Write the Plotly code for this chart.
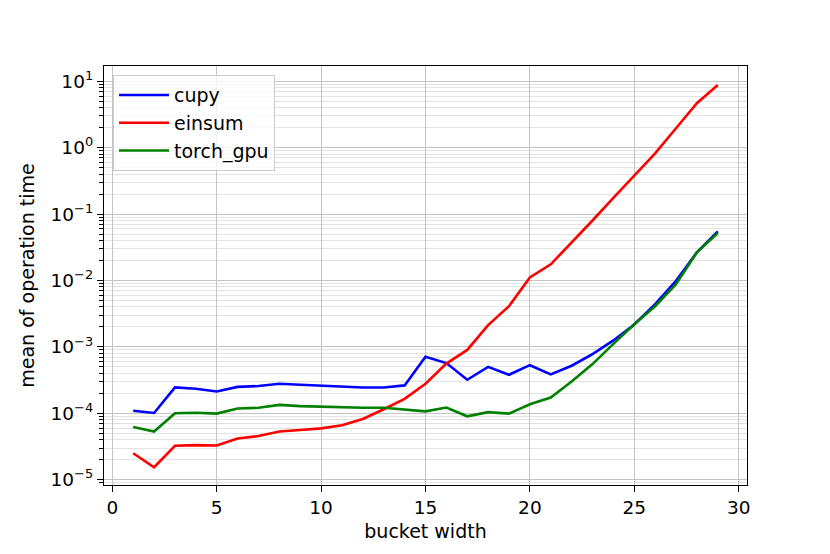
import plotly.graph_objects as go

bucket_width = list(range(1, 30))

cupy = [1.09e-4, 1.01e-4, 2.45e-4, 2.34e-4, 2.13e-4, 2.5e-4, 2.57e-4, 2.79e-4, 2.69e-4, 2.6e-4,
        2.48e-4, 2.45e-4, 2.45e-4, 2.63e-4, 7.1e-4, 5.7e-4, 3.2e-4, 5.0e-4, 3.8e-4, 5.3e-4,
        3.85e-4, 5.2e-4, 7.8e-4, 1.25e-3, 2.18e-3, 4.4e-3, 9.9e-3, 2.65e-2, 5.5e-2]

einsum = [2.5e-5, 1.54e-5, 3.24e-5, 3.32e-5, 3.27e-5, 4.18e-5, 4.54e-5, 5.33e-5, 5.6e-5, 5.93e-5,
          6.6e-5, 8.2e-5, 1.15e-4, 1.65e-4, 2.79e-4, 5.6e-4, 9.0e-4, 2.13e-3, 4.1e-3, 1.11e-2,
          1.75e-2, 3.7e-2, 8.0e-2, 0.175, 0.38, 0.82, 1.96, 4.67, 8.8]

torch_gpu = [6.2e-5, 5.3e-5, 1.0e-4, 1.02e-4, 9.9e-5, 1.18e-4, 1.21e-4, 1.34e-4, 1.28e-4, 1.25e-4,
             1.21e-4, 1.21e-4, 1.21e-4, 1.15e-4, 1.07e-4, 1.22e-4, 9.0e-5, 1.04e-4, 9.9e-5, 1.37e-4,
             1.73e-4, 3.0e-4, 5.5e-4, 1.11e-3, 2.19e-3, 4.1e-3, 8.8e-3, 2.65e-2, 5.2e-2]

series_names = ["cupy", "einsum", "torch_gpu"]
series_colors = ["#0000ff", "#ff0000", "#008000"]

x_tickvals = [0, 5, 10, 15, 20, 25, 30]
y_exponents = [-5, -4, -3, -2, -1, 0, 1]
y_tickvals = [10.0 ** e for e in y_exponents]
y_ticktext = ["10<sup>%s</sup>" % (("\u2212" + str(-e)) if e < 0 else str(e)) for e in y_exponents]
y_minor = [m * 10.0 ** e for e in range(-6, 2) for m in range(2, 10)]

FONT = "DejaVu Sans"

fig = go.Figure()
for i, (name, vals) in enumerate(zip(series_names, [cupy, einsum, torch_gpu])):
    fig.add_trace(go.Scatter(
        x=bucket_width, y=vals, mode="lines", name=name,
        line=dict(color=series_colors[i], width=2.6),
        legendgroup=name,
    ))

fig.update_layout(
    width=830, height=554,
    margin=dict(l=96, r=91, t=58, b=77),
    paper_bgcolor="white", plot_bgcolor="white",
    font=dict(family=FONT, size=18.5, color="black"),
    showlegend=True,
    legend=dict(
        x=0.014, y=0.978, xanchor="left", yanchor="top",
        bgcolor="rgba(255,255,255,0.8)", bordercolor="#cccccc", borderwidth=1,
        font=dict(family=FONT, size=19), tracegroupgap=0, traceorder="grouped",
        itemwidth=50,
    ),
    xaxis=dict(
        range=[-0.4, 30.4], tickmode="array", tickvals=x_tickvals,
        ticks="outside", ticklen=6, tickwidth=1.2, tickcolor="black",
        showline=True, linecolor="black", linewidth=1.3, mirror=True,
        showgrid=True, gridcolor="#c4c4c4", gridwidth=1.3, zeroline=False,
        title=dict(text="bucket width", font=dict(size=19), standoff=7),
    ),
    yaxis=dict(
        type="log", range=[-5.08, 1.23], tickmode="array",
        tickvals=y_tickvals, ticktext=y_ticktext,
        ticks="outside", ticklen=6, tickwidth=1.2, tickcolor="black",
        showline=True, linecolor="black", linewidth=1.3, mirror=True,
        showgrid=True, gridcolor="#c4c4c4", gridwidth=1.3, zeroline=False,
        minor=dict(tickmode="array", tickvals=y_minor, ticks="outside", ticklen=3.5,
                   tickwidth=1, tickcolor="black", showgrid=True,
                   gridcolor="#e3e3e3", gridwidth=1),
        title=dict(text="mean of operation time", font=dict(size=19), standoff=10),
    ),
)

fig.write_html("out.html")
